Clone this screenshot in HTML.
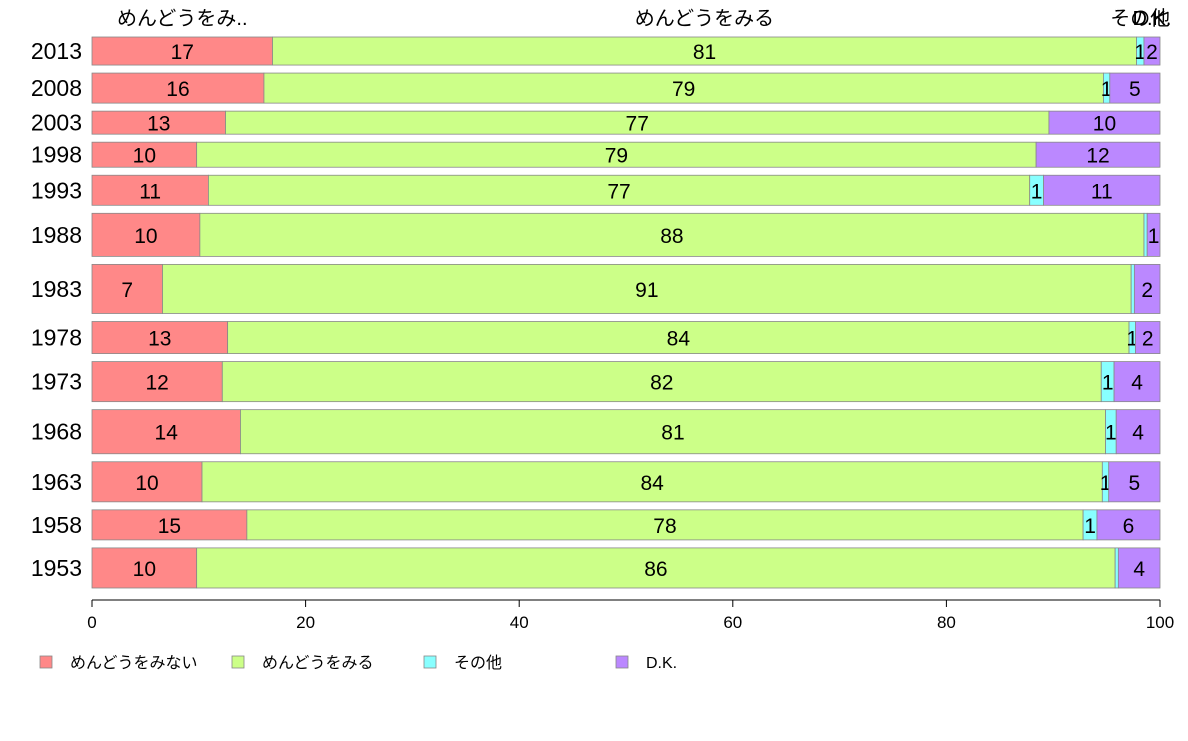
<!DOCTYPE html>
<html><head><meta charset="utf-8">
<style>
body{margin:0;background:#fff;}
svg text{font-family:"Liberation Sans","Noto Sans CJK JP",sans-serif;}
</style></head>
<body>
<svg id="chart" width="1188" height="736" xmlns="http://www.w3.org/2000/svg"></svg>
<script>
const years = ["2013","2008","2003","1998","1993","1988","1983","1978","1973","1968","1963","1958","1953"];
const weights = [28,30,23,25,30,43,49,32,40,44,40,30,40];
const seriesRed = [16.9,16.1,12.5,9.8,10.9,10.1,6.6,12.7,12.2,13.9,10.3,14.5,9.8];
const seriesGreen = [80.9,78.6,77.1,78.6,76.9,88.4,90.7,84.4,82.3,81.0,84.3,78.3,86.0];
const seriesCyan = [0.7,0.6,0,0,1.3,0.3,0.3,0.6,1.2,1.0,0.6,1.3,0.3];
const seriesPurple = [1.5,4.7,10.4,11.6,10.9,1.2,2.4,2.3,4.3,4.1,4.8,5.9,3.9];
const seriesNames = ["めんどうをみない","めんどうをみる","その他","D.K."];
const topLabels = ["めんどうをみ..","めんどうをみる","その他","D.K."];
const xTicks = [0,20,40,60,80,100];

const colors = ["#FF8888","#CCFF88","#88FFFF","#BB88FF"];
const series = [seriesRed,seriesGreen,seriesCyan,seriesPurple];
const svg = document.getElementById('chart');
const NS = "http://www.w3.org/2000/svg";
const x0=92, x1=1160, yTop=37, gap=8, plotH=551;
const xs = v => x0 + (x1-x0)*v/100;
const totalW = weights.reduce((a,b)=>a+b,0);
const unit = (plotH - gap*(years.length-1))/totalW;
function mk(tag, attrs, text){
  const e=document.createElementNS(NS,tag);
  for(const k in attrs) e.setAttribute(k,attrs[k]);
  if(text!==undefined) e.textContent=text;
  svg.appendChild(e); return e;
}
let y=yTop;
years.forEach((yr,i)=>{
  const h=weights[i]*unit;
  let t=mk('text',{x:82,y:y+h/2+8,'text-anchor':'end','font-size':23,fill:'#000'},yr);
  
  
  let cum=0;
  series.forEach((s,j)=>{
    const v=s[i];
    const r=mk('rect',{x:xs(cum),y:y,width:Math.max(0,xs(cum+v)-xs(cum)),height:h,fill:colors[j],stroke:'#888','stroke-width':0.8});
    
    
    if(Math.round(v)>=1){
      const l=mk('text',{x:(xs(cum)+xs(cum+v))/2,y:y+h/2+8,'text-anchor':'middle','font-size':21,fill:'#000'},String(Math.round(v)));
      
      
    }
    if(i===0){
      const tl=mk('text',{x:(xs(cum)+xs(cum+v))/2,y:25,'text-anchor':'middle','font-size':20,fill:'#000'},topLabels[j]);
      
      
    }
    cum+=v;
  });
  y+=h+gap;
});
const ax=mk('line',{x1:x0,y1:600,x2:x1,y2:600,stroke:'#000','stroke-width':1});


xTicks.forEach(v=>{
  const tk=mk('line',{x1:xs(v),y1:600,x2:xs(v),y2:607,stroke:'#000'});
  
  
  const tl=mk('text',{x:xs(v),y:628,'text-anchor':'middle','font-size':17,fill:'#000'},String(v));
  
  
});
const legX=[40,232,424,616];
seriesNames.forEach((n,j)=>{
  const r=mk('rect',{x:legX[j],y:656,width:12,height:12,fill:colors[j],stroke:'#888','stroke-width':0.8});
  
  
  const t=mk('text',{x:legX[j]+30,y:668,'font-size':16,fill:'#000'},n);
  
  
});
</script>
</body></html>
